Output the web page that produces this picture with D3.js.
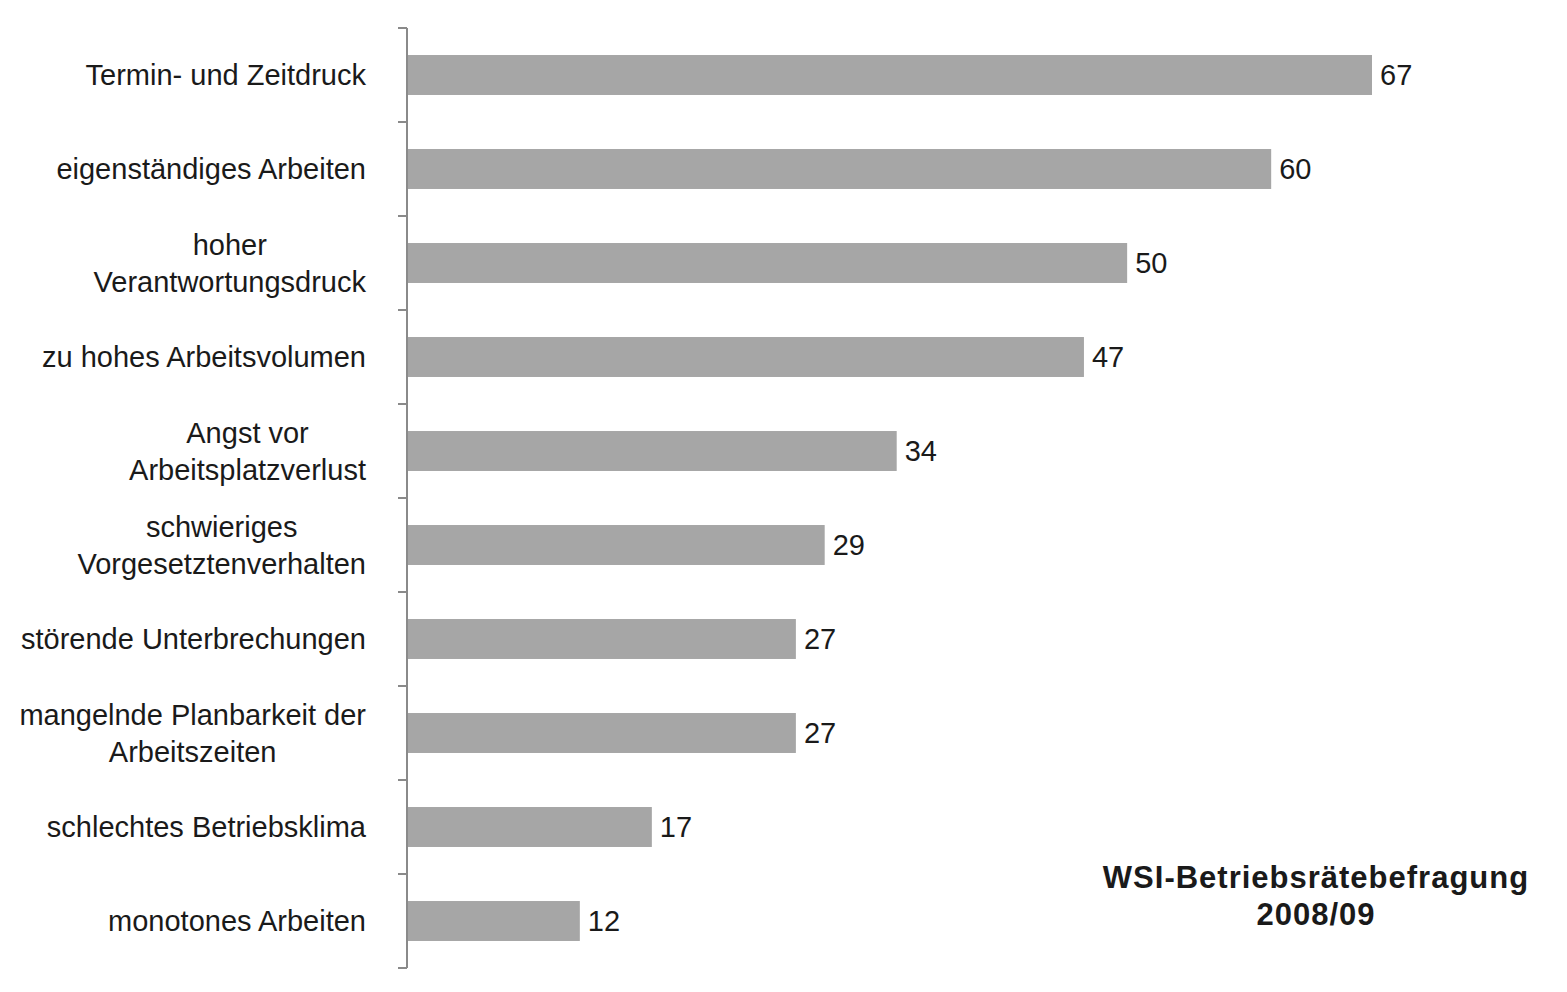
<!DOCTYPE html>
<html>
<head>
<meta charset="utf-8">
<script src="https://cdn.jsdelivr.net/npm/d3@7"></script>
<style>
  html, body { margin: 0; padding: 0; background: #fff; }
  svg { display: block; }
  text { font-family: "Liberation Sans", Arial, sans-serif; fill: #1a1a1a; }
</style>
</head>
<body>
<script>
// Belastungsfaktoren laut WSI-Betriebsrätebefragung 2008/09 (Angaben in %)
const categories = [
  ["Termin- und Zeitdruck"],
  ["eigenständiges Arbeiten"],
  ["hoher", "Verantwortungsdruck"],
  ["zu hohes Arbeitsvolumen"],
  ["Angst vor", "Arbeitsplatzverlust"],
  ["schwieriges", "Vorgesetztenverhalten"],
  ["störende Unterbrechungen"],
  ["mangelnde Planbarkeit der", "Arbeitszeiten"],
  ["schlechtes Betriebsklima"],
  ["monotones Arbeiten"]
];
const values = [67, 60, 50, 47, 34, 29, 27, 27, 17, 12];
const sourceLines = ["WSI-Betriebsrätebefragung", "2008/09"];

const W = 1567, H = 992;
const margin = { left: 407, top: 28, bottom: 24 };
const fontSize = 29;

const svg = d3.select("body").append("svg").attr("width", W).attr("height", H);

const keys = categories.map((c, i) => i);
const y = d3.scaleBand()
  .domain(keys)
  .range([margin.top, H - margin.bottom])
  .paddingInner(0.575)
  .paddingOuter(0.2875);

const x = d3.scaleLinear().domain([0, 67]).range([margin.left, 1372]);

// Balken
svg.append("g").selectAll("rect")
  .data(values)
  .join("rect")
  .attr("x", x(0))
  .attr("y", (d, i) => y(i))
  .attr("width", d => x(d) - x(0))
  .attr("height", y.bandwidth())
  .attr("fill", "#a6a6a6");

// Kategorienachse mit Teilstrichen an den Bandgrenzen
const axis = svg.append("g");
const step = y.step();
const bounds = d3.range(keys.length + 1).map(i => margin.top + i * step);
axis.append("line")
  .attr("x1", x(0)).attr("x2", x(0))
  .attr("y1", bounds[0]).attr("y2", bounds[bounds.length - 1])
  .attr("stroke", "#8a8a8a").attr("stroke-width", 2);
axis.selectAll("line.tick")
  .data(bounds)
  .join("line")
  .attr("class", "tick")
  .attr("x1", x(0) - 9).attr("x2", x(0))
  .attr("y1", d => d).attr("y2", d => d)
  .attr("stroke", "#8a8a8a").attr("stroke-width", 2);

// Kategoriebeschriftungen (mehrzeilig, zentriert im rechtsbündigen Block)
const labelRight = 366;
const lineH = 37;
const labels = svg.append("g").selectAll("g")
  .data(categories)
  .join("g");
labels.each(function (lines, i) {
  const g = d3.select(this);
  const cy = y(i) + y.bandwidth() / 2;
  const texts = lines.map((l, j) => g.append("text")
    .attr("font-size", fontSize)
    .attr("dominant-baseline", "central")
    .attr("text-anchor", "middle")
    .attr("y", cy + (j - (lines.length - 1) / 2) * lineH)
    .text(l));
  const maxW = d3.max(texts, t => t.node().getComputedTextLength());
  texts.forEach(t => t.attr("x", labelRight - maxW / 2));
});

// Werte an den Balkenenden
svg.append("g").selectAll("text")
  .data(values)
  .join("text")
  .attr("x", d => x(d) + 8)
  .attr("y", (d, i) => y(i) + y.bandwidth() / 2)
  .attr("dominant-baseline", "central")
  .attr("font-size", fontSize)
  .text(d => d);

// Quellenangabe
svg.append("g").selectAll("text")
  .data(sourceLines)
  .join("text")
  .attr("x", 1316)
  .attr("y", (d, i) => 877 + i * 37)
  .attr("dominant-baseline", "central")
  .attr("text-anchor", "middle")
  .attr("font-size", 31)
  .attr("letter-spacing", 1)
  .attr("font-weight", "bold")
  .text(d => d);
</script>
</body>
</html>
